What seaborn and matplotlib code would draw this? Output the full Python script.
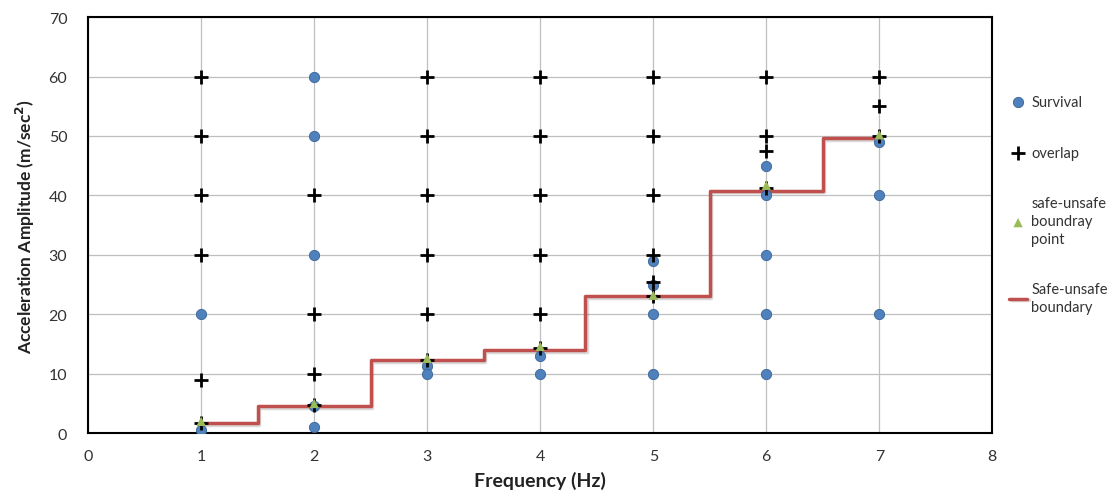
import numpy as np
import pandas as pd
import matplotlib
matplotlib.use('Agg')
import matplotlib.pyplot as plt
import matplotlib.patheffects as pe
import seaborn as sns

# survival points (blue circles)
surv_x = [1, 1, 2, 2, 2, 2, 2, 3, 3, 4, 4, 5, 5, 5, 5, 6, 6, 6, 6, 6, 7, 7, 7]
surv_y = [20, 0.5, 60, 50, 30, 4.5, 1, 11.3, 10, 13, 10, 29, 25, 20, 10, 45, 40, 30, 20, 10, 49, 40, 20]

# overlap points (black plus)
ovl_x = [1, 1, 1, 1, 1, 1, 2, 2, 2, 2, 3, 3, 3, 3, 3, 3, 4, 4, 4, 4, 4, 4,
         5, 5, 5, 5, 5, 5, 6, 6, 6, 6, 7, 7, 7]
ovl_y = [60, 50, 40, 30, 9, 1.8, 40, 20, 10, 4.8, 60, 50, 40, 30, 20, 12.3,
         60, 50, 40, 30, 20, 14.3, 60, 50, 40, 30, 25.5, 23, 60, 50, 47.5, 41.3,
         60, 55, 50]

# safe-unsafe boundary points (green triangles)
bnd_x = [1, 2, 3, 4, 5, 6, 7]
bnd_y = [2, 5, 12.6, 14.6, 23.2, 41.7, 50.2]

# step boundary line
step_x = [1, 1.5, 2.5, 3.5, 4.4, 5.5, 6.5, 7]
step_y = [1.7, 4.5, 12.3, 14.0, 23.0, 40.8, 49.6, 49.6]

sns.set_style('white')
plt.rcParams['font.family'] = ['Lato', 'DejaVu Sans']

fig, ax = plt.subplots(figsize=(11.15, 5.02), dpi=100)
fig.subplots_adjust(left=0.079, right=0.89, bottom=0.135, top=0.964)

sns.lineplot(x=step_x, y=step_y, ax=ax, drawstyle='steps-post', color='#C0504D',
             linewidth=2.5, label='Safe-unsafe\nboundary', zorder=2,
             path_effects=[pe.SimpleLineShadow(offset=(1.2, -1.2), alpha=0.15), pe.Normal()])
sns.scatterplot(x=surv_x, y=surv_y, ax=ax, marker='o', s=55, color='#4F81BD',
                edgecolor='#3A6496', linewidth=0.6, label='Survival', zorder=3)
sns.scatterplot(x=ovl_x, y=ovl_y, ax=ax, marker='+', s=110, color='black',
                linewidth=2.0, label='overlap', zorder=4)
sns.scatterplot(x=bnd_x, y=bnd_y, ax=ax, marker='^', s=45, color='#9BBB59',
                edgecolor='none', label='safe-unsafe\nboundray\npoint', zorder=5)

ax.set_xlim(0, 8)
ax.set_ylim(0, 70)
ax.set_xticks(range(0, 9))
ax.set_yticks(range(0, 71, 10))
ax.grid(True, color='#BFBFBF', linewidth=0.9)
ax.set_axisbelow(True)
for s in ax.spines.values():
    s.set_color('black')
    s.set_linewidth(1.5)
ax.tick_params(length=0, labelsize=11.5, colors='#333333')
ax.tick_params(axis='y', pad=15)
ax.tick_params(axis='x', pad=11)

ax.set_xlabel('Frequency (Hz)', fontsize=14, fontweight='bold', color='#222222', labelpad=6)
ax.set_ylabel(r'Acceleration Amplitude (m/sec$^{\mathbf{2}}$)', fontsize=12.5,
              fontweight='bold', color='#222222', labelpad=8)

handles, labels = ax.get_legend_handles_labels()
order = [labels.index(l) for l in ['Survival', 'overlap', 'safe-unsafe\nboundray\npoint',
                                   'Safe-unsafe\nboundary']]
leg = ax.legend([handles[i] for i in order], [labels[i] for i in order],
                loc='upper left', bbox_to_anchor=(0.9, 0.82), bbox_transform=fig.transFigure,
                frameon=False, fontsize=10.5, labelspacing=2.5, handlelength=1.2,
                handletextpad=0.3, borderaxespad=0)
for t in leg.get_texts():
    t.set_color('#333333')
    t.set_linespacing(1.35)

fig.savefig('out.png', dpi=100)
